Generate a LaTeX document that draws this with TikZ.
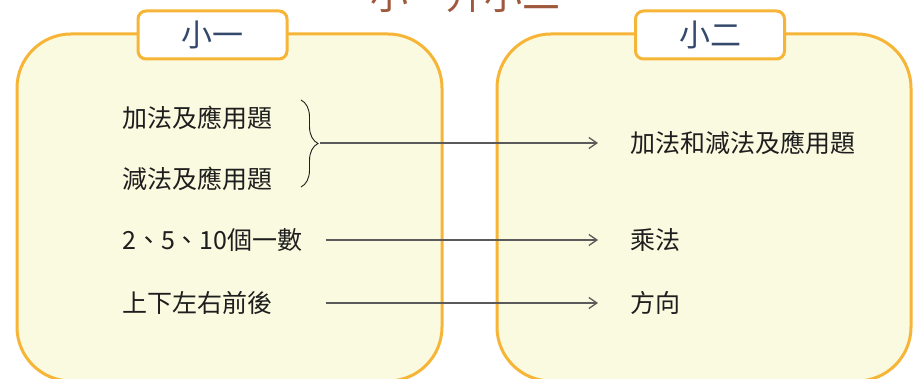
\documentclass[tikz,border=0pt]{standalone}
\usepackage{fontspec}
\setmainfont{Noto Sans CJK TC}
\usetikzlibrary{decorations.pathreplacing,arrows.meta}
\definecolor{cream}{RGB}{250,250,224}
\definecolor{amber}{RGB}{247,181,56}
\definecolor{navy}{RGB}{52,73,107}
\definecolor{rust}{RGB}{160,88,60}
\definecolor{ink}{RGB}{30,30,30}
\definecolor{wiregray}{RGB}{90,90,90}

\begin{document}
\begin{tikzpicture}[x=1pt,y=-1pt,
  panel/.style={fill=cream,draw=amber,line width=3pt,rounded corners=54pt},
  tab/.style={fill=white,draw=amber,line width=3pt,rounded corners=8pt,
    minimum width=149pt,minimum height=48pt,text=navy,font=\fontsize{31}{31}\selectfont},
  item/.style={anchor=west,inner sep=0pt,text=ink,font=\fontsize{25}{25}\selectfont},
  wire/.style={draw=wiregray,line width=1.3pt,-{Straight Barb[length=8pt,width=11pt]}}]
\clip (0,0) rectangle (913,379);
\fill[white] (0,0) rectangle (913,379);
% title, cut by the top edge
\node[anchor=base,inner sep=0pt,text=rust,font=\fontsize{38}{38}\selectfont] (title) at (465,10) {小一升小二};
% panels
\filldraw[panel] (17,34) rectangle (442,381);
\filldraw[panel] (497,34) rectangle (911,381);
\node[tab] (grade1) at (212.5,35) {小一};
\node[tab] (grade2) at (710,35) {小二};
% first grade
\node[item] (add) at (122,118) {加法及應用題};
\node[item] (sub) at (122,179) {減法及應用題};
\node[item] (count) at (122,240) {2、5、10個一數};
\node[item] (dirs) at (122,303) {上下左右前後};
% second grade
\node[item] (addsub) at (630,143) {加法和減法及應用題};
\node[item] (mult) at (630,240) {乘法};
\node[item] (dir) at (630,303) {方向};
% links
\draw[decorate,decoration={brace,amplitude=17pt},line width=0.9pt,ink] (301,100) -- (301,187);
\coordinate (tip) at (320,143);
\draw[wire,shorten >=32pt] (tip) -- (addsub.west);
\draw[wire,shorten <=23pt,shorten >=32pt] (count.east) -- (mult.west);
\draw[wire,shorten <=23pt,shorten >=32pt] (dirs.east -| count.east) -- (dir.west);
\end{tikzpicture}
\end{document}
